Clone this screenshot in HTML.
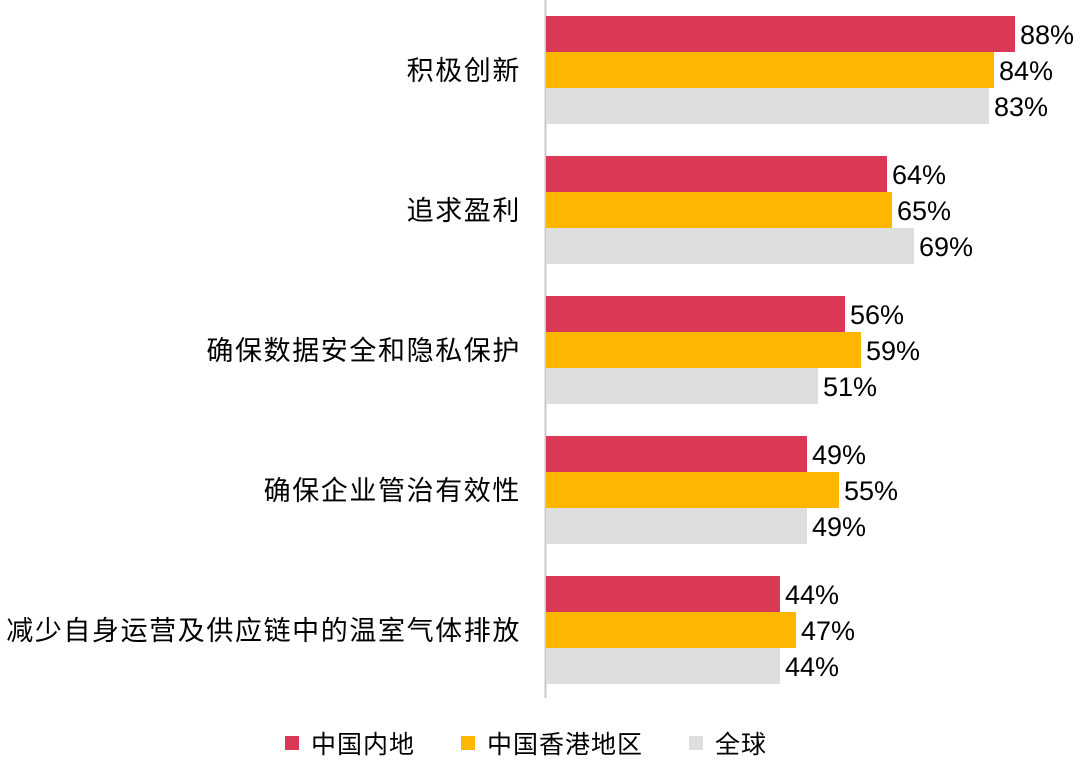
<!DOCTYPE html>
<html><head><meta charset="utf-8"><style>
body{margin:0;background:#fff;}
svg text{font-family:"Liberation Sans","Noto Sans CJK SC",sans-serif;fill:#000;}
</style></head><body>
<svg width="1080" height="758" xmlns="http://www.w3.org/2000/svg">
<line x1="545.5" y1="0" x2="545.5" y2="698" stroke="#c8c8c8" stroke-width="2"/>
<g font-size="27" text-anchor="end" letter-spacing="1.6">
<text x="521" y="80">积极创新</text>
<text x="521" y="220">追求盈利</text>
<text x="521" y="360">确保数据安全和隐私保护</text>
<text x="521" y="500">确保企业管治有效性</text>
<text x="521" y="640">减少自身运营及供应链中的温室气体排放</text>
</g>
<g font-size="27">
<rect x="546" y="16" width="469" height="36" fill="#d93954"/><text x="1020" y="44">88%</text>
<rect x="546" y="52" width="448" height="36" fill="#ffb600"/><text x="999" y="80">84%</text>
<rect x="546" y="88" width="443" height="36" fill="#dedede"/><text x="994" y="116">83%</text>

<rect x="546" y="156" width="341" height="36" fill="#d93954"/><text x="892" y="184">64%</text>
<rect x="546" y="192" width="346" height="36" fill="#ffb600"/><text x="897" y="220">65%</text>
<rect x="546" y="228" width="368" height="36" fill="#dedede"/><text x="919" y="256">69%</text>

<rect x="546" y="296" width="299" height="36" fill="#d93954"/><text x="850" y="324">56%</text>
<rect x="546" y="332" width="315" height="36" fill="#ffb600"/><text x="866" y="360">59%</text>
<rect x="546" y="368" width="272" height="36" fill="#dedede"/><text x="823" y="396">51%</text>

<rect x="546" y="436" width="261" height="36" fill="#d93954"/><text x="812" y="464">49%</text>
<rect x="546" y="472" width="293" height="36" fill="#ffb600"/><text x="844" y="500">55%</text>
<rect x="546" y="508" width="261" height="36" fill="#dedede"/><text x="812" y="536">49%</text>

<rect x="546" y="576" width="234" height="36" fill="#d93954"/><text x="785" y="604">44%</text>
<rect x="546" y="612" width="250" height="36" fill="#ffb600"/><text x="801" y="640">47%</text>
<rect x="546" y="648" width="234" height="36" fill="#dedede"/><text x="785" y="676">44%</text>
</g>
<rect x="285" y="736" width="14" height="14" fill="#d93954"/>
<rect x="461" y="736" width="14" height="14" fill="#ffb600"/>
<rect x="689" y="736" width="14" height="14" fill="#dedede"/>
<g font-size="25" letter-spacing="1">
<text x="311" y="753">中国内地</text>
<text x="487" y="753">中国香港地区</text>
<text x="715" y="753">全球</text>
</g>
</svg>
</body></html>
